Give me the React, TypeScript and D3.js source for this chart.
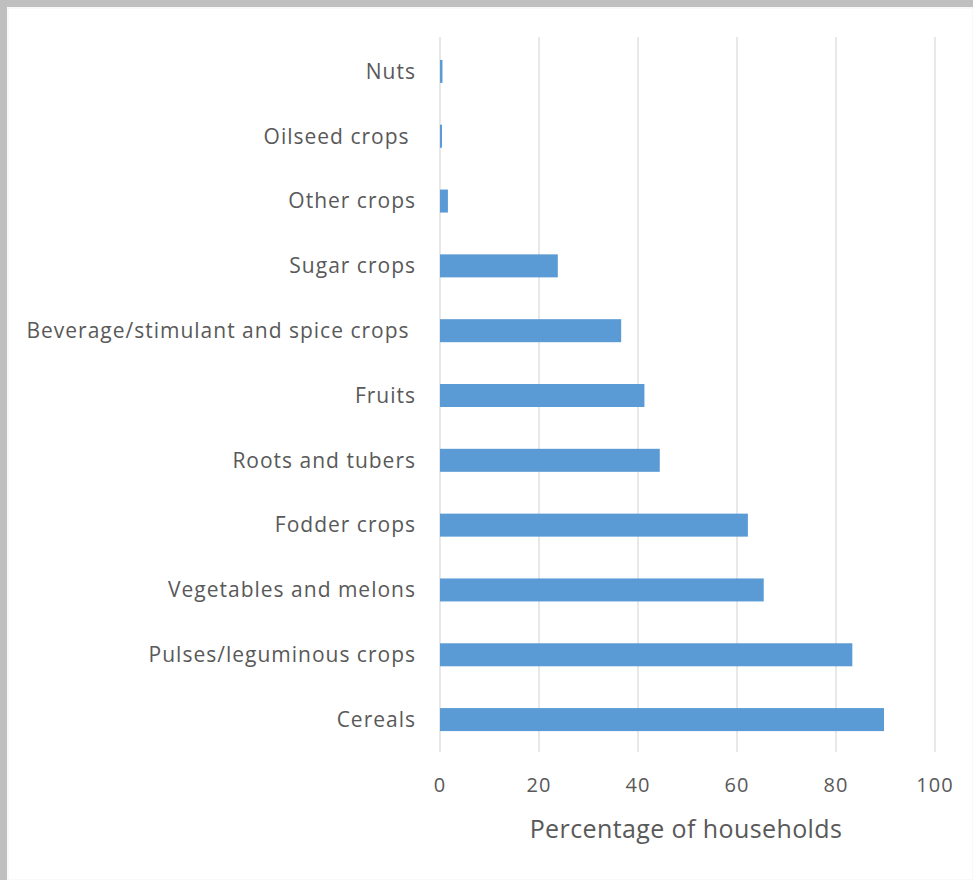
import React from "react";
import * as d3 from "d3";

const categories = [
  "Nuts",
  "Oilseed crops ",
  "Other crops",
  "Sugar crops",
  "Beverage/stimulant and spice crops ",
  "Fruits",
  "Roots and tubers",
  "Fodder crops",
  "Vegetables and melons",
  "Pulses/leguminous crops",
  "Cereals",
];
const values = [0.5, 0.4, 1.6, 23.8, 36.6, 41.3, 44.4, 62.2, 65.4, 83.3, 89.7];
const xTicks = [0, 20, 40, 60, 80, 100];
const xTitle = "Percentage of households";

const W = 973;
const H = 880;
const FONT = "'Open Sans', sans-serif";
const TEXT = "#595959";

export default function App() {
  const x = d3.scaleLinear().domain([0, 100]).range([440, 935]);
  const y = d3
    .scaleBand<string>()
    .domain(categories)
    .range([39, 752])
    .paddingInner(0.645)
    .paddingOuter(0.3225);
  const bw = y.bandwidth();

  return (
    <svg
      width={W}
      height={H}
      style={{ position: "absolute", left: 0, top: 0, background: "#fff" }}
    >
      <rect x={0} y={0} width={W} height={7} fill="#bfbfbf" />
      <rect x={0} y={0} width={7} height={H} fill="#bfbfbf" />
      <rect x={8} y={8} width={W - 8} height={H - 8} fill="none" stroke="#f2f2f2" strokeWidth={1} />
      {xTicks.map((t) => (
        <line
          key={t}
          x1={x(t)}
          x2={x(t)}
          y1={37}
          y2={752}
          stroke="#d9d9d9"
          strokeWidth={1.2}
        />
      ))}
      {categories.map((c, i) => (
        <rect
          key={c}
          x={x(0)}
          y={y(c)!}
          width={Math.max(x(values[i]) - x(0), 1.5)}
          height={bw}
          fill="#5b9bd5"
        />
      ))}
      {categories.map((c) => (
        <text
          key={c}
          x={416}
          y={y(c)! + bw / 2}
          dy="0.35em"
          textAnchor="end"
          fontFamily={FONT}
          fontSize={21}
          letterSpacing={1}
          fill={TEXT}
          style={{ whiteSpace: "pre" }}
        >
          {c}
        </text>
      ))}
      {xTicks.map((t) => (
        <text
          key={t}
          x={x(t)}
          y={785}
          dy="0.35em"
          textAnchor="middle"
          fontFamily={FONT}
          fontSize={20}
          letterSpacing={1}
          fill={TEXT}
        >
          {t}
        </text>
      ))}
      <text
        x={686}
        y={829}
        dy="0.35em"
        textAnchor="middle"
        fontFamily={FONT}
        fontSize={25}
        letterSpacing={0.4}
        fill={TEXT}
      >
        {xTitle}
      </text>
    </svg>
  );
}
